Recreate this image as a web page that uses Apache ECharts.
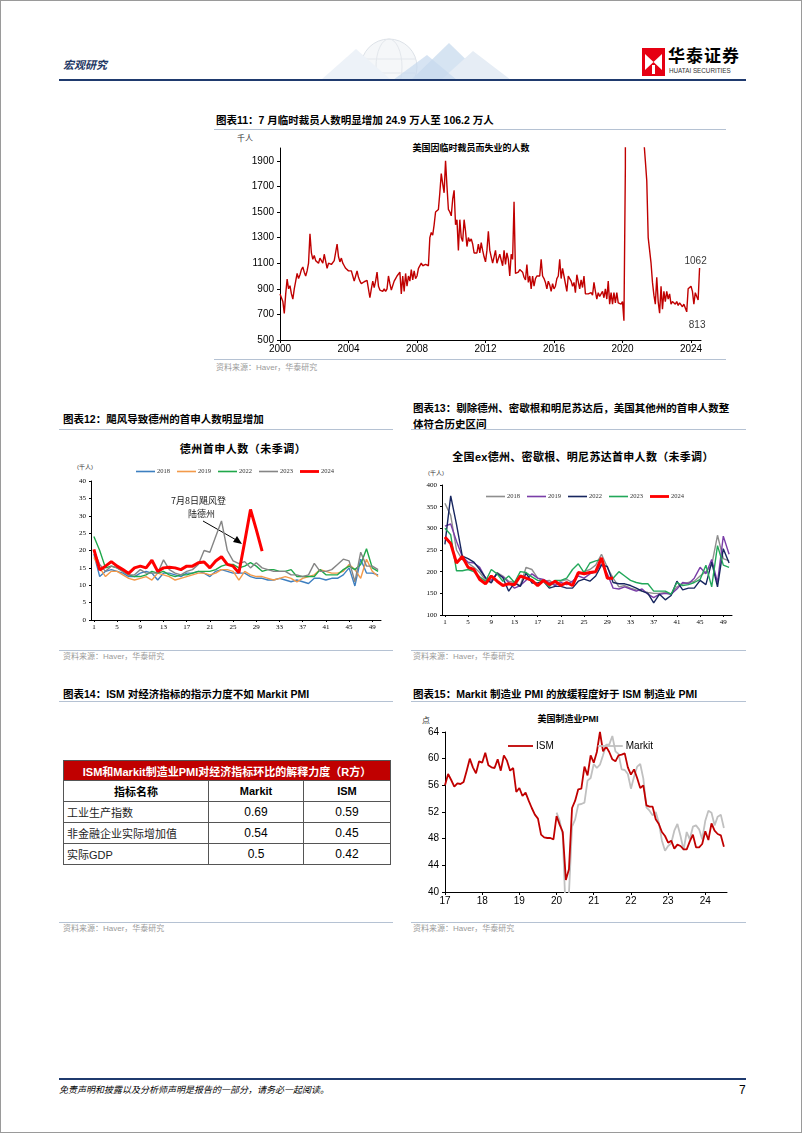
<!DOCTYPE html>
<html><head><meta charset="utf-8">
<script src="https://cdn.jsdelivr.net/npm/echarts/dist/echarts.min.js"></script>
<style>
html,body{margin:0;padding:0;background:#fff;}
#page{position:relative;width:802px;height:1133px;box-sizing:border-box;border:1px solid #9a9a9a;overflow:hidden;font-family:"Liberation Sans","Noto Sans CJK SC",sans-serif;color:#000;}
.t{position:absolute;white-space:nowrap;line-height:1;}
.ttl{font-weight:bold;font-size:10.5px;font-family:"Liberation Sans","Noto Sans CJK SC";}
.hr{position:absolute;height:1px;background:#b5c2d3;}
.src{font-size:8px;color:#9a9a9a;}
.chart{position:absolute;}
table.tb{position:absolute;border-collapse:collapse;font-family:"Liberation Sans","Noto Sans CJK SC";}
table.tb td{border:1px solid #555;padding:0;height:20px;font-size:11px;}
</style></head>
<body><div id="page">
<!-- header -->
<svg class="t" style="left:300px;top:34px" width="230" height="45">
  <circle cx="88" cy="32" r="28" fill="#f5f7f9" stroke="#dde2e8" stroke-width="1"/>
  <ellipse cx="88" cy="32" rx="13" ry="28" fill="none" stroke="#e3e7ec"/>
  <line x1="61" y1="24" x2="115" y2="24" stroke="#e3e7ec"/>
  <line x1="62" y1="38" x2="114" y2="38" stroke="#e3e7ec"/>
  <polygon points="20,45 55,14 90,45" fill="#edf2f8"/>
  <polygon points="110,45 148,8 186,45" fill="#d6e4f2"/>
  <polygon points="140,45 172,16 210,45" fill="#e6edf5"/>
  <polygon points="92,45 126,20 156,45" fill="#c6d9ee" opacity="0.7"/>
</svg>
<div class="t" style="left:62px;top:59px;font-size:11px;font-weight:bold;font-style:italic;color:#1f3864">宏观研究</div>
<svg class="t" style="left:641px;top:47px" width="23" height="28">
  <rect x="0" y="0" width="23" height="28" fill="#e60012"/>
  <polygon points="3,6 11.5,14 3,22" fill="#fff"/>
  <polygon points="20,6 11.5,14 20,22" fill="#fff"/>
  <rect x="10" y="17" width="3" height="9" fill="#fff"/>
</svg>
<div class="t" style="left:667px;top:47px;font-size:17px;font-weight:bold;letter-spacing:1px">华泰证券</div>
<div class="t" style="left:668px;top:67px;font-size:6.3px;color:#333">HUATAI SECURITIES</div>
<div class="hr" style="left:58px;top:78px;width:687px;height:2px;background:#1f3a6e"></div>

<!-- chart 11 -->
<div class="t ttl" style="left:215px;top:114px">图表11：7 月临时裁员人数明显增加 24.9 万人至 106.2 万人</div>
<div class="hr" style="left:213px;top:128px;width:512px"></div>
<div class="t" style="left:236px;top:134px;font-size:8px;color:#333">千人</div>
<div class="t" style="left:470px;top:143px;font-size:9px;font-weight:bold;transform:translateX(-50%)">美国因临时裁员而失业的人数</div>
<div id="c11" class="chart" style="left:200px;top:130px;width:540px;height:228px"></div>
<div class="hr" style="left:213px;top:358px;width:512px"></div>
<div class="t src" style="left:215px;top:363px">资料来源：Haver，华泰研究</div>

<!-- chart 12 -->
<div class="t ttl" style="left:62px;top:413px">图表12：飓风导致德州的首申人数明显增加</div>
<div class="hr" style="left:58px;top:428px;width:334px"></div>
<div class="t" style="left:242px;top:443px;font-size:11px;font-weight:bold;letter-spacing:0.5px;transform:translateX(-50%)">德州首申人数（未季调）</div>
<div class="t" style="left:76px;top:463px;font-size:6px;color:#333">(千人)</div>
<div id="c12" class="chart" style="left:58px;top:430px;width:335px;height:210px"></div>
<div class="hr" style="left:58px;top:649px;width:334px"></div>
<div class="t src" style="left:62px;top:652px">资料来源：Haver，华泰研究</div>

<!-- chart 13 -->
<div class="t ttl" style="left:412px;top:399px;line-height:16px">图表13：剔除德州、密歇根和明尼苏达后，美国其他州的首申人数整<br>体符合历史区间</div>
<div class="hr" style="left:410px;top:428px;width:335px"></div>
<div class="t" style="left:582px;top:451px;font-size:11px;font-weight:bold;letter-spacing:0.3px;transform:translateX(-50%)">全国ex德州、密歇根、明尼苏达首申人数（未季调）</div>
<div class="t" style="left:427px;top:469px;font-size:6px;color:#333">(千人)</div>
<div id="c13" class="chart" style="left:410px;top:430px;width:335px;height:210px"></div>
<div class="hr" style="left:410px;top:649px;width:335px"></div>
<div class="t src" style="left:412px;top:652px">资料来源：Haver，华泰研究</div>

<!-- table 14 -->
<div class="t ttl" style="left:62px;top:688px">图表14：ISM 对经济指标的指示力度不如 Markit PMI</div>
<div class="hr" style="left:58px;top:700px;width:334px"></div>
<table class="tb" id="tbl" style="left:62px;top:759px;width:328px"></table>
<div class="hr" style="left:58px;top:921px;width:334px"></div>
<div class="t src" style="left:62px;top:924px">资料来源：Haver，华泰研究</div>

<!-- chart 15 -->
<div class="t ttl" style="left:412px;top:688px">图表15：Markit 制造业 PMI 的放缓程度好于 ISM 制造业 PMI</div>
<div class="hr" style="left:410px;top:700px;width:335px"></div>
<div class="t" style="left:567px;top:714px;font-size:9px;font-weight:bold;transform:translateX(-50%)">美国制造业PMI</div>
<div class="t" style="left:421px;top:716px;font-size:8px;color:#333">点</div>
<div id="c15" class="chart" style="left:410px;top:700px;width:335px;height:215px"></div>
<div class="hr" style="left:410px;top:921px;width:335px"></div>
<div class="t src" style="left:412px;top:924px">资料来源：Haver，华泰研究</div>

<!-- footer -->
<div class="hr" style="left:58px;top:1077px;width:687px;height:2px;background:#1f3a6e"></div>
<div class="t" style="left:58px;top:1085px;font-size:9px;font-style:italic;color:#000">免责声明和披露以及分析师声明是报告的一部分，请务必一起阅读。</div>
<div class="t" style="left:738px;top:1083px;font-size:12px">7</div>
</div>
<script>
// ---------- Chart 11: temporary layoffs (thousands), monthly Jan 2000 - Jul 2024 ----------
const layoffStartYear = 2000;
const tempLayoffs = [
  860, 830, 800, 708, 860, 976, 900, 924, 860, 820, 900, 960,        // 2000
  1020, 980, 1010, 1050, 1070, 1030, 1000, 1040, 1100, 1330, 1180, 1130, // 2001
  1160, 1120, 1130, 1100, 1140, 1130, 1100, 1170, 1160, 1060, 1100, 1090, // 2002
  1090, 1100, 1120, 1130, 1250, 1150, 1110, 1140, 1100, 1080, 1060, 1050, // 2003
  1040, 1030, 1040, 1000, 960, 1000, 1040, 990, 960, 940, 950, 955,   // 2004
  960, 965, 960, 830, 900, 960, 910, 960, 1030, 920, 890, 900,        // 2005
  880, 900, 880, 900, 1000, 940, 890, 880, 960, 980, 1000, 1010,      // 2006
  1030, 860, 1000, 880, 1020, 920, 1000, 960, 1050, 970, 1040, 980,   // 2007
  1000, 1060, 1050, 1100, 1080, 1070, 1090, 1080, 1080, 1300, 1340, 1320, // 2008
  1400, 1500, 1500, 1520, 1650, 1800, 1720, 1650, 1900, 1700, 1520, 1500, // 2009
  1470, 1600, 1670, 1400, 1440, 1200, 1440, 1300, 1270, 1440, 1350, 1230, // 2010
  1300, 1270, 1290, 1250, 1180, 1180, 1180, 1250, 1180, 1260, 1200, 1150, // 2011
  1110, 1200, 1350, 1200, 1150, 1100, 1150, 1200, 1100, 1110, 1170, 1180, // 2012
  1080, 1200, 1090, 1180, 1130, 1000, 1170, 1130, 1580, 1020, 1020, 1030, // 2013
  1050, 1050, 1030, 990, 970, 1090, 950, 1000, 900, 1000, 920, 980,   // 2014
  1000, 1010, 1000, 1130, 1000, 980, 950, 900, 960, 930, 880, 940,    // 2015
  900, 920, 980, 1000, 1130, 980, 1060, 1000, 990, 880, 1000, 1000,   // 2016
  960, 920, 950, 870, 1010, 1000, 900, 970, 910, 1000, 860, 860,      // 2017
  860, 850, 870, 850, 950, 880, 820, 870, 840, 860, 880, 830,         // 2018
  900, 820, 960, 780, 870, 780, 870, 790, 870, 790, 800, 780,         // 2019
  800, 650, 1850, 18000, 15300, 10600, 9200, 6200, 4600, 3200, 2800, 3000, // 2020
  2700, 2400, 2100, 2050, 1900, 1744, 1300, 1200, 1100, 950, 850, 780, // 2021
  990, 800, 710, 920, 740, 880, 800, 880, 820, 860, 780, 800,         // 2022
  790, 780, 800, 770, 790, 800, 760, 780, 780, 720, 900, 910,         // 2023
  920, 880, 780, 870, 840, 813, 1062                                  // 2024
];
const layoffYTicks = [500, 700, 900, 1100, 1300, 1500, 1700, 1900];
const layoffXTicks = [2000, 2004, 2008, 2012, 2016, 2020, 2024];

// ---------- Chart 12: Texas initial claims (thousands, NSA), weeks 1-50 ----------
const weeks = Array.from({length: 50}, (_, i) => String(i + 1));
const tx2018 = [19,12.5,14,14.5,14,13.5,12.5,12.5,13.5,14, 13.5,11.5,13.5,13.5,13,12.5,13.5,13.5,14,13.5, 12.5,14,14.5,14,13.5,13.5,13.5,12.5,12,12, 11.5,11.5,12,11.5,11,11.5,11,10.5,12,12, 11.5,12,12,13,15,9.8,17.5,13.5,13.5,13];
const tx2019 = [18,15,12.5,14,14,13,12,11.5,12,12.5, 11.5,13.5,13,12.5,11.5,12,12.5,13,13.5,13.5, 13,13.5,14.5,14.5,14,11.5,14,13,12.5,12.5, 12,11.5,12,12.5,12,11,12,12.5,13,14.5, 14,13.5,13.5,14,16,14.5,12,17.5,14,12.5];
const tx2022 = [24,20,15,15.5,15,14,13,12.5,12.5,13, 14,13.5,14,13,12.5,13,13,13.5,14,14, 14,14.5,15.5,16,16,15,15.5,16.5,15.5,14, 14.5,14.5,14,14,14.5,12.5,12.5,12.5,12.5,14.5, 13,13,13,14.5,15.5,14.5,16,20.5,15,14];
const tx2023 = [20,16,14,15.5,15,14,13,13,14.5,13.5, 13.5,13.5,17.3,14.5,13.5,13,14,14.5,16,20, 19.5,24,28.5,20,17,16.2,16.8,15,16.5,15, 14.5,14,14,14,13,13,12.5,13,16.3,14, 14,14.5,16,17.5,17,11,19.5,15.5,15.5,14.5];
const tx2024 = [20.3,14.4,15.5,16.8,15.5,14.5,13.4,15,15.5,15, 17.2,14,15,15.2,15,14.5,15.5,15.5,16.5,16.7, 15,17,18.2,16,15.5,13.6,22.5,31.8,26,19.8];

// ---------- Chart 13: US ex TX/MI/MN initial claims (thousands, NSA) ----------
const ex2018 = [358,330,250,228,220,210,198,180,175,198, 190,178,175,168,210,205,185,178,180,170, 178,182,175,195,200,205,215,240,210,185, 165,168,162,158,155,152,150,150,152,148, 165,172,175,178,190,200,215,284,230,225];
const ex2019 = [305,310,270,235,222,220,210,185,180,195, 188,175,162,168,180,195,185,182,175,168, 175,170,178,190,185,195,200,218,195,162, 160,165,160,155,160,148,140,148,150,148, 160,175,172,185,210,195,228,175,282,240];
const ex2022 = [263,375,309,236,230,222,205,186,174,197, 186,155,174,166,197,174,174,178,162,166, 166,162,162,178,183,178,190,215,212,175, 172,172,168,162,155,150,128,148,135,145, 178,158,162,162,180,170,222,165,253,220];
const ex2023 = [300,285,202,202,205,200,188,178,205,195, 178,190,175,200,198,188,180,178,165,180, 180,185,205,218,198,220,225,228,185,185, 200,190,180,175,172,172,155,155,155,148, 175,168,170,175,182,215,165,260,215,210];
const ex2024 = [280,265,220,235,210,205,182,172,190,178, 168,172,170,190,185,180,168,180,170,178, 168,175,168,198,195,198,200,232,185,185];

// ---------- Table 14 ----------
const tblTitle = 'ISM和Markit制造业PMI对经济指标环比的解释力度（R方）';
const tblHead = ['指标名称', 'Markit', 'ISM'];
const tblRows = ['工业生产指数', '非金融企业实际增加值', '实际GDP'];
const tblMarkit = ['0.69', '0.54', '0.5'];
const tblISM = ['0.59', '0.45', '0.42'];

// ---------- Chart 15: US manufacturing PMI ----------
const ismStartYear = 17;   // Jan 2017
const ismPMI = [
  56.0,57.7,56.8,55.8,56.3,56.2,56.5,58.2,60.0,58.7,57.8,59.6,
  59.4,60.9,59.0,58.7,58.6,59.9,58.2,60.5,59.7,58.2,58.6,55.0,
  55.6,54.4,54.9,53.7,52.6,51.6,51.0,48.6,48.2,48.1,48.1,47.9,
  51.4,50.1,49.0,41.8,43.4,52.6,53.7,55.4,55.5,58.8,57.5,60.5,
  59.4,61.0,64.0,61.1,61.8,61.0,59.9,59.6,60.5,60.6,60.8,58.7,
  57.6,58.4,57.1,55.6,56.0,53.0,52.8,52.8,50.9,50.2,49.0,48.4,
  47.4,47.7,46.5,47.1,46.9,46.4,46.4,47.6,48.6,46.7,46.7,47.2,
  49.1,47.8,50.3,49.2,48.7,48.5,46.8
];
const markitStartYear = 20; // Jan 2020
const markitPMI = [
  51.9,50.7,48.5,36.1,39.8,49.8,50.9,53.1,53.2,53.4,56.7,57.1,
  59.2,58.6,59.1,60.5,62.1,62.1,63.4,61.1,60.7,58.4,58.3,57.7,
  55.5,57.3,58.8,59.2,57.0,52.7,52.2,51.5,52.0,50.4,47.7,46.2,
  46.9,47.3,49.2,50.2,48.4,46.3,49.0,47.9,49.8,50.0,49.4,47.9,
  50.7,52.2,51.9,50.0,51.3,51.6,49.6
];
const pmiXTicks = [17, 18, 19, 20, 21, 22, 23, 24];

// ===================== rendering =====================
const SANS = 'Liberation Sans';
const SERIF = 'Liberation Serif';
const plain = v => String(Math.round(v));
const thinIcon = 'path://M0,0H20V1.7H0Z';
const thickIcon = 'path://M0,0H20V3H0Z';

// chart 11
(function () {
  const n = tempLayoffs.length;
  const lineData = tempLayoffs.map((v, i) => [layoffStartYear + i / 12, v]);
  const labelData = [
    {value: lineData[n - 2], label: {position: 'bottom', distance: 20, offset: [-1, 0]}},
    {value: lineData[n - 1], label: {position: 'top', distance: 1, offset: [-4, 0]}}
  ];
  const c = echarts.init(document.getElementById('c11'));
  c.setOption({
    animation: false,
    grid: {left: 79, top: 17, width: 421, height: 192},
    xAxis: {
      type: 'value', min: layoffStartYear, max: 2024 + 7 / 12,
      axisLine: {show: true, onZero: false, lineStyle: {color: '#000'}},
      axisTick: {show: true, length: 3, customValues: layoffXTicks, lineStyle: {color: '#000'}},
      axisLabel: {customValues: layoffXTicks, formatter: plain, color: '#000', fontSize: 10, fontFamily: SANS, margin: 4},
      splitLine: {show: false}
    },
    yAxis: {
      type: 'value', min: 500, max: 2000,
      axisLine: {show: true, lineStyle: {color: '#000'}},
      axisTick: {show: true, length: 3, customValues: layoffYTicks, lineStyle: {color: '#000'}},
      axisLabel: {customValues: layoffYTicks, formatter: plain, color: '#000', fontSize: 10, fontFamily: SANS, margin: 6},
      splitLine: {show: false}
    },
    series: [{
      type: 'line', data: lineData, symbol: 'none', clip: true,
      lineStyle: {color: '#c00000', width: 1.4}
    }, {
      type: 'scatter', data: labelData, symbolSize: 1, z: 5,
      itemStyle: {color: 'rgba(0,0,0,0)'},
      label: {show: true, color: '#000', fontSize: 10, fontFamily: SANS, formatter: p => plain(p.value[1])}
    }]
  });
})();

// weekly charts
function weeklyChart(id, grid, yMin, yMax, yInt, seriesDefs, legendPos, extraGraphic) {
  const c = echarts.init(document.getElementById(id));
  c.setOption({
    animation: false,
    grid: grid,
    legend: Object.assign({
      data: seriesDefs.map(s => ({name: s.name, icon: s.width ? thickIcon : thinIcon})),
      itemWidth: 19, itemHeight: 6, itemGap: 7,
      textStyle: {fontSize: 6.5, fontFamily: SERIF, color: '#333', padding: [0, 0, 0, -3]}
    }, legendPos),
    xAxis: {
      type: 'category', data: weeks, boundaryGap: true,
      axisLine: {show: true, lineStyle: {color: '#000'}},
      axisTick: {show: true, interval: 3, alignWithLabel: true, length: 2, lineStyle: {color: '#000'}},
      axisLabel: {interval: 3, fontSize: 7, fontFamily: SERIF, color: '#000', margin: 4}
    },
    yAxis: {
      type: 'value', min: yMin, max: yMax, interval: yInt,
      axisLine: {show: true, lineStyle: {color: '#000'}},
      axisTick: {show: true, length: 2, lineStyle: {color: '#000'}},
      axisLabel: {fontSize: 7, fontFamily: SERIF, color: '#000', margin: 5},
      splitLine: {show: false}
    },
    series: seriesDefs.map(s => ({
      type: 'line', name: s.name, data: s.data, symbol: 'none',
      z: s.z || 2,
      itemStyle: {color: s.color},
      lineStyle: {color: s.color, width: s.width || 1.4}
    })),
    graphic: extraGraphic || []
  });
}

weeklyChart('c12', {left: 32, top: 50, width: 290, height: 139}, 0, 40, 5, [
  {name: '2018', data: tx2018, color: '#3d7fc0'},
  {name: '2019', data: tx2019, color: '#f39a4a'},
  {name: '2022', data: tx2022, color: '#20a84a'},
  {name: '2023', data: tx2023, color: '#858585'},
  {name: '2024', data: tx2024, color: '#ff0000', width: 3, z: 5}
], {left: 72, top: 32}, [
  {type: 'text', left: 112, top: 65, style: {text: '7月8日飓风登', fill: '#222', font: '9px "Noto Sans CJK SC"'}},
  {type: 'text', left: 129, top: 78, style: {text: '陆德州', fill: '#222', font: '9px "Noto Sans CJK SC"'}},
  {type: 'line', shape: {x1: 144, y1: 90, x2: 179, y2: 110}, style: {stroke: '#000', lineWidth: 1}},
  {type: 'polygon', shape: {points: [[183, 113], [174, 111], [178, 105]]}, style: {fill: '#000'}}
]);

weeklyChart('c13', {left: 31, top: 54, width: 290, height: 130}, 100, 400, 50, [
  {name: '2018', data: ex2018, color: '#8e8e8e'},
  {name: '2019', data: ex2019, color: '#7a3ea8'},
  {name: '2022', data: ex2022, color: '#17265f'},
  {name: '2023', data: ex2023, color: '#22a85a'},
  {name: '2024', data: ex2024, color: '#ff0000', width: 3, z: 5}
], {left: 70, top: 57});

// table
(function () {
  const tb = document.getElementById('tbl');
  let h = '<tr><td colspan="3" style="background:#c00000;color:#fff;font-weight:bold;text-align:center;font-size:11px;height:19px">' + tblTitle + '</td></tr>';
  h += '<tr>' + tblHead.map((s, i) => '<td style="text-align:center;font-weight:bold;font-size:11px;width:' + [146, 95, 87][i] + 'px">' + s + '</td>').join('') + '</tr>';
  tblRows.forEach((r, i) => {
    h += '<tr><td style="padding-left:3px;font-size:11px;color:#222">' + r + '</td><td style="text-align:center;font-size:12px">' + tblMarkit[i] + '</td><td style="text-align:center;font-size:12px">' + tblISM[i] + '</td></tr>';
  });
  tb.innerHTML = h;
})();

// chart 15
(function () {
  const ism = ismPMI.map((v, i) => [ismStartYear + i / 12, v]);
  const mk = markitPMI.map((v, i) => [markitStartYear + i / 12, v]);
  const c = echarts.init(document.getElementById('c15'));
  c.setOption({
    animation: false,
    grid: {left: 34, top: 31, width: 282, height: 160},
    legend: {
      data: [{name: 'ISM', icon: 'path://M0,0H25V1.8H0Z'}, {name: 'Markit', icon: 'path://M0,0H25V1.8H0Z'}],
      left: 92, top: 35, itemWidth: 25, itemHeight: 8, itemGap: 44,
      textStyle: {fontSize: 10, fontFamily: SANS, color: '#000', padding: [0, 0, 0, -2]}
    },
    xAxis: {
      type: 'value', min: ismStartYear, max: 24 + 7 / 12,
      axisLine: {show: true, onZero: false, lineStyle: {color: '#000'}},
      axisTick: {show: true, length: 3, customValues: pmiXTicks, lineStyle: {color: '#000'}},
      axisLabel: {customValues: pmiXTicks, formatter: plain, color: '#000', fontSize: 10, fontFamily: SANS, margin: 4},
      splitLine: {show: false}
    },
    yAxis: {
      type: 'value', min: 40, max: 64, interval: 4,
      axisLine: {show: true, lineStyle: {color: '#000'}},
      axisTick: {show: true, length: 3, lineStyle: {color: '#000'}},
      axisLabel: {color: '#000', fontSize: 10, fontFamily: SANS, margin: 6},
      splitLine: {show: false}
    },
    series: [
      {type: 'line', name: 'Markit', data: mk, symbol: 'none', clip: true, z: 2,
        itemStyle: {color: '#c0c0c0'}, lineStyle: {color: '#c0c0c0', width: 1.8}},
      {type: 'line', name: 'ISM', data: ism, symbol: 'none', clip: true, z: 3,
        itemStyle: {color: '#c00000'}, lineStyle: {color: '#c00000', width: 1.8}}
    ]
  });
})();
</script>
</body></html>
